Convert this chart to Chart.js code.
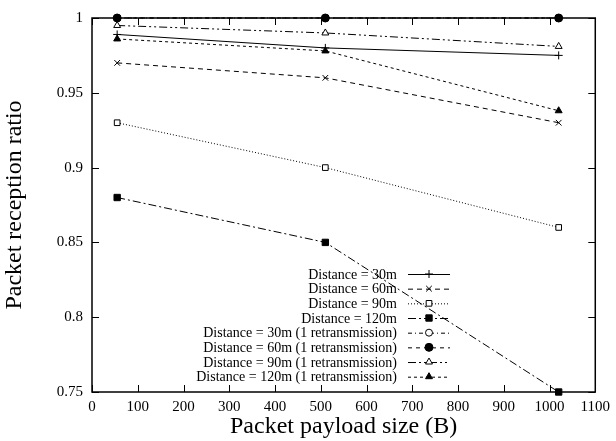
<!DOCTYPE html>
<html>
<head>
<meta charset="utf-8">
<script src="https://cdn.jsdelivr.net/npm/chart.js@4/dist/chart.umd.min.js"></script>
<style>
  html, body { margin: 0; padding: 0; background: #fff; }
  #wrap { width: 616px; height: 441px; }
</style>
</head>
<body>
<div id="wrap"><canvas id="prrChart"></canvas></div>
<script>
// Données
const payloadSizes = [55, 510, 1020];
const xTicks = [0, 100, 200, 300, 400, 500, 600, 700, 800, 900, 1000, 1100];
const yTicks = [0.75, 0.8, 0.85, 0.9, 0.95, 1];

const seriesNames = [
    'Distance = 30m',
    'Distance = 60m',
    'Distance = 90m',
    'Distance = 120m',
    'Distance = 30m (1 retransmission)',
    'Distance = 60m (1 retransmission)',
    'Distance = 90m (1 retransmission)',
    'Distance = 120m (1 retransmission)'
];
const d30 = [0.989, 0.980, 0.975];
const d60 = [0.970, 0.960, 0.930];
const d90 = [0.930, 0.900, 0.860];
const d120 = [0.880, 0.850, 0.750];
const d30r = [1.0, 1.0, 1.0];
const d60r = [1.0, 1.0, 1.0];
const d90r = [0.995, 0.990, 0.981];
const d120r = [0.986, 0.978, 0.938];

// styles de chaque courbe (type gnuplot)
const styles = [
    { pointStyle: 'cross', fill: '#000', dash: [], radius: 4 },
    { pointStyle: 'crossRot', fill: '#000', dash: [5, 4], radius: 4 },
    { pointStyle: 'rect', fill: '#fff', dash: [1, 2], radius: 4 },
    { pointStyle: 'rect', fill: '#000', dash: [8, 3, 2, 3], radius: 4.5 },
    { pointStyle: 'circle', fill: '#fff', dash: [4, 3, 1, 3], radius: 3.5 },
    { pointStyle: 'circle', fill: '#000', dash: [4, 4], radius: 4 },
    { pointStyle: 'triangle', fill: '#fff', dash: [8, 3, 2, 3, 2, 3], radius: 4 },
    { pointStyle: 'triangle', fill: '#000', dash: [3, 3], radius: 4 }
];
const allValues = [d30, d60, d90, d120, d30r, d60r, d90r, d120r];

const datasets = allValues.map((vals, i) => ({
    label: seriesNames[i],
    data: payloadSizes.map((x, j) => ({ x: x, y: vals[j] })),
    borderColor: '#000',
    borderWidth: 1,
    borderDash: styles[i].dash,
    pointStyle: styles[i].pointStyle,
    pointRadius: styles[i].radius,
    pointBackgroundColor: styles[i].fill,
    pointBorderColor: '#000',
    pointBorderWidth: 1,
    clip: false,
    fill: false,
    tension: 0,
    order: i === 5 ? -1 : 0 // cercles pleins au-dessus des cercles vides
}));

// Cadre + graduations vers l'intérieur (miroir en haut et à droite)
const frameTicks = {
    id: 'frameTicks',
    afterDatasetsDraw(chart) {
        const ctx = chart.ctx;
        const a = chart.chartArea;
        const xs = chart.scales.x, ys = chart.scales.y;
        const len = 7;
        ctx.save();
        ctx.strokeStyle = '#000';
        ctx.lineWidth = 1.5;
        ctx.setLineDash([]);
        ctx.strokeRect(a.left, a.top, a.right - a.left, a.bottom - a.top);
        ctx.lineWidth = 1;
        ctx.beginPath();
        xTicks.forEach(v => {
            const px = Math.round(xs.getPixelForValue(v)) + 0.5;
            ctx.moveTo(px, a.bottom); ctx.lineTo(px, a.bottom - len);
            ctx.moveTo(px, a.top); ctx.lineTo(px, a.top + len);
        });
        yTicks.forEach(v => {
            const py = Math.round(ys.getPixelForValue(v)) + 0.5;
            ctx.moveTo(a.left, py); ctx.lineTo(a.left + len, py);
            ctx.moveTo(a.right, py); ctx.lineTo(a.right - len, py);
        });
        ctx.stroke();
        ctx.restore();
    }
};

// Légende façon gnuplot : texte aligné à droite, échantillon à droite
const gnuLegend = {
    id: 'gnuLegend',
    afterDraw(chart) {
        const ctx = chart.ctx;
        const textRight = 397, x0 = 408, x1 = 450, top = 274, step = 14.67;
        ctx.save();
        ctx.font = '14px "Liberation Serif", "Times New Roman", serif';
        ctx.textAlign = 'right';
        ctx.textBaseline = 'middle';
        chart.data.datasets.forEach((ds, i) => {
            const y = top + i * step;
            ctx.fillStyle = '#000';
            ctx.fillText(ds.label, textRight, y + 1);
            ctx.strokeStyle = '#000';
            ctx.lineWidth = 1;
            ctx.setLineDash(ds.borderDash);
            ctx.beginPath();
            ctx.moveTo(x0, y + 0.5); ctx.lineTo(x1, y + 0.5);
            ctx.stroke();
            ctx.setLineDash([]);
            ctx.fillStyle = ds.pointBackgroundColor;
            Chart.helpers.drawPoint(ctx, {
                pointStyle: ds.pointStyle,
                radius: ds.pointRadius,
                borderWidth: 1,
                rotation: 0
            }, (x0 + x1) / 2, y);
        });
        ctx.restore();
    }
};

const serif = '"Liberation Serif", "Times New Roman", serif';

new Chart(document.getElementById('prrChart'), {
    type: 'line',
    data: { datasets: datasets },
    options: {
        responsive: true,
        maintainAspectRatio: false,
        animation: false,
        layout: { padding: { top: 16, right: 16, left: 0, bottom: 0 } },
        plugins: {
            legend: { display: false },
            tooltip: { enabled: false }
        },
        scales: {
            x: {
                type: 'linear',
                min: 0,
                max: 1100,
                afterBuildTicks: s => { s.ticks = xTicks.map(v => ({ value: v })); },
                afterFit: s => { s.height = 49; },
                grid: { display: false, drawTicks: false },
                border: { display: false },
                ticks: {
                    color: '#000',
                    padding: 6,
                    maxRotation: 0,
                    font: { family: serif, size: 15 },
                    callback: v => String(v)
                },
                title: {
                    display: true,
                    text: 'Packet payload size (B)',
                    color: '#000',
                    font: { family: serif, size: 24 },
                    padding: { top: 0, bottom: 0 }
                }
            },
            y: {
                type: 'linear',
                min: 0.75,
                max: 1,
                afterBuildTicks: s => { s.ticks = yTicks.map(v => ({ value: v })); },
                afterFit: s => { s.width = 92; },
                grid: { display: false, drawTicks: false },
                border: { display: false },
                ticks: {
                    color: '#000',
                    padding: 9,
                    font: { family: serif, size: 15 },
                    callback: v => String(+v.toFixed(2))
                },
                title: {
                    display: true,
                    text: 'Packet reception ratio',
                    color: '#000',
                    font: { family: serif, size: 24 },
                    padding: { top: 0, bottom: 8 }
                }
            }
        }
    },
    plugins: [frameTicks, gnuLegend]
});
</script>
</body>
</html>
